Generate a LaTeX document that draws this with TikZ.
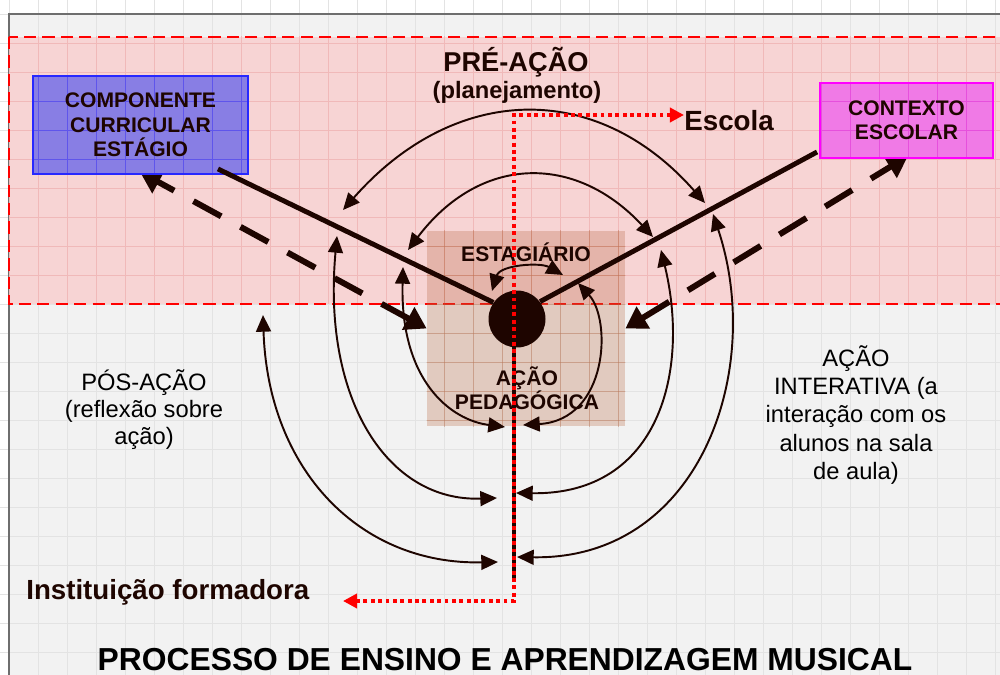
\documentclass[tikz,border=0pt]{standalone}
\usepackage{fontspec}
\setmainfont{Liberation Sans}
\usetikzlibrary{arrows.meta}
\definecolor{bggray}{RGB}{242,242,242}
\definecolor{gridgray}{RGB}{227,227,227}
\definecolor{pinkfill}{RGB}{247,212,212}
\definecolor{pinkgrid}{RGB}{240,185,185}
\definecolor{bluefill}{RGB}{136,126,228}
\definecolor{bluegrid}{RGB}{95,85,235}
\definecolor{blueline}{RGB}{40,40,255}
\definecolor{magfill}{RGB}{240,122,230}
\definecolor{maggrid}{RGB}{230,80,220}
\definecolor{magline}{RGB}{255,0,255}
\definecolor{sqbrown}{RGB}{181,100,62}
\definecolor{darkink}{RGB}{30,5,0}
\definecolor{framegray}{RGB}{110,110,110}
\newcommand{\gridlines}[1]{%
  \foreach \i in {0,...,34} {\draw[#1, line width=0.5pt] (9+29*\i,0) -- (9+29*\i,690);}
  \foreach \j in {0,...,23} {\draw[#1, line width=0.5pt] (0,14+29*\j) -- (1010,14+29*\j);}
}
\tikzset{
  arcarrow/.style={line width=1.1pt, draw=darkink, {Triangle[length=9.5pt,width=8.5pt]}-{Triangle[length=9.5pt,width=8.5pt]}},
  thickline/.style={line width=2.8pt, draw=darkink},
  dasharrow/.style={line width=3.4pt, draw=darkink, dash pattern=on 18pt off 12.5pt,
    {Triangle[length=12pt,width=14pt]}-{Triangle[length=12pt,width=14pt]}},
  reddot/.style={line width=2.2pt, draw=red, dash pattern=on 2.2pt off 2pt,
    {Triangle[length=8pt,width=8pt]}-{Triangle[length=8pt,width=8pt]}},
  boxtext/.style={text=darkink, font=\bfseries\fontsize{12}{13.9}\selectfont, align=center, inner sep=0pt},
  plaintext/.style={text=black, font=\fontsize{13.5}{15.6}\selectfont, align=center, inner sep=0pt},
}
\begin{document}
\begin{tikzpicture}[x=0.02cm, y=-0.02cm]
\useasboundingbox (0,0) rectangle (1000,675);
\clip (0,0) rectangle (1000,675);
\fill[white] (0,0) rectangle (1000,675);
% slide background with grid
\fill[bggray] (9,14) rectangle (1010,690);
\gridlines{gridgray}
\draw[framegray, line width=1.2pt] (9,690) -- (9,14) -- (1010,14);
% pre-action region
\fill[pinkfill] (9,37) rectangle (1010,304);
\begin{scope}
  \clip (9,37) rectangle (1010,304);
  \gridlines{pinkgrid}
\end{scope}
\draw[red, line width=1.2pt, dash pattern=on 7pt off 3.5pt] (9,37) rectangle (1010,304);
% central square
\node[fill=sqbrown, fill opacity=0.28, minimum width=3.96cm, minimum height=3.9cm, inner sep=0pt] (sq) at (526,328.5) {};
\begin{scope}
  \clip (sq.north west) rectangle (sq.south east);
  \gridlines{sqbrown, opacity=0.35}
\end{scope}
% labels
\node[text=darkink, font=\bfseries\fontsize{15.5}{18}\selectfont, inner sep=0pt] (pre) at (516,62) {PRÉ-AÇÃO};
\node[text=darkink, font=\bfseries\fontsize{13.5}{16}\selectfont, inner sep=0pt] (plan) at (517,92) {(planejamento)};
\node[text=darkink, font=\bfseries\fontsize{15.8}{18}\selectfont, inner sep=0pt, anchor=west] (esc) at (684,121) {Escola};
\node[text=darkink, font=\bfseries\fontsize{15.75}{18}\selectfont, inner sep=0pt, anchor=base west] (inst) at (26,599) {Instituição formadora};
\node[boxtext] (estag) at (526,252) {ESTAGIÁRIO};
\node[boxtext] (acao) at (527,388) {AÇÃO\\PEDAGÓGICA};
\node[plaintext, font=\fontsize{13.5}{15.4}\selectfont] (pos) at (144,410) {PÓS-AÇÃO\\(reflexão sobre\\ação)};
\node[plaintext, font=\fontsize{13.5}{16.2}\selectfont] (inter) at (856,415) {AÇÃO\\INTERATIVA (a\\interação com os\\alunos na sala\\de aula)};
\node[text=black, font=\bfseries\fontsize{18.1}{21}\selectfont, inner sep=0pt] (title) at (505,660) {PROCESSO DE ENSINO E APRENDIZAGEM MUSICAL};
% concentric double arrows
\draw[arcarrow] (343,210) .. controls (453,85) and (595,78) .. (705,203);
\draw[arcarrow] (408,250) .. controls (480,155) and (575,153) .. (653,237);
\draw[arcarrow] (492,291) .. controls (500,265) and (540,262) .. (563,275);
\draw[arcarrow] (403,267) .. controls (400,380) and (450,420) .. (505,427);
\draw[arcarrow] (578,283) .. controls (612,320) and (608,420) .. (523,425);
\draw[arcarrow] (337,236) .. controls (322,400) and (388,502) .. (497,498);
\draw[arcarrow] (661,250) .. controls (690,370) and (660,495) .. (516,493);
\draw[arcarrow] (263,315) .. controls (268,470) and (360,565) .. (498,562);
\draw[arcarrow] (713,214) .. controls (765,370) and (700,560) .. (517,557);
% dashed thick arrows (tips under the boxes)
\coordinate (compTip) at (140,172);
\coordinate (ctxTip) at (908,156);
\draw[dasharrow] (sq.west) -- (compTip);
\draw[dasharrow] (sq.east) -- (ctxTip);
% boxes
\fill[bluefill] (33,76) rectangle (248,174);
\begin{scope}
  \clip (33,76) rectangle (248,174);
  \gridlines{bluegrid}
\end{scope}
\node[boxtext, draw=blueline, line width=1.1pt, minimum width=4.3cm, minimum height=1.96cm] (comp) at (140.5,125) {COMPONENTE\\CURRICULAR\\ESTÁGIO};
\fill[magfill] (820,83) rectangle (993,158);
\begin{scope}
  \clip (820,83) rectangle (993,158);
  \gridlines{maggrid}
\end{scope}
\node[boxtext, draw=magline, line width=1.1pt, minimum width=3.46cm, minimum height=1.5cm] (ctx) at (906.5,120.5) {CONTEXTO\\ESCOLAR};
% circle and thick lines
\node[circle, fill=darkink, minimum size=1.14cm, inner sep=0pt] (circ) at (517,319) {};
\coordinate (stemEnd) at (514,582);
\draw[thickline] ([shift={(-31,-6)}]comp.south east) -- (circ.145);
\draw[thickline] (circ.37) -- ([shift={(-2,-7)}]ctx.south west);
\draw[thickline] (stemEnd |- circ.center) -- (stemEnd);
% red dotted path
\coordinate (escTip) at (684,115);
\coordinate (dotTop) at (514,115);
\coordinate (dotBot) at (514,601);
\coordinate (instTip) at (343,601);
\draw[reddot] (escTip) -- (dotTop) -- (dotBot) -- (instTip);
\end{tikzpicture}
\end{document}
